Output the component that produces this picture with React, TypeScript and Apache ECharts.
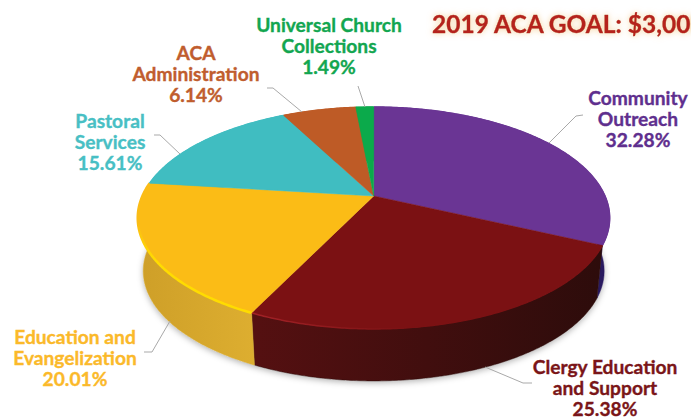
import React, { useEffect, useRef } from "react";
import * as echarts from "echarts";

const categories = [
  "Community Outreach",
  "Clergy Education and Support",
  "Education and Evangelization",
  "Pastoral Services",
  "ACA Administration",
  "Universal Church Collections",
];
const values = [32.28, 25.38, 20.01, 15.61, 6.14, 1.49];
const labelLines = [
  ["Community", "Outreach"],
  ["Clergy Education", "and Support"],
  ["Education and", "Evangelization"],
  ["Pastoral", "Services"],
  ["ACA", "Administration"],
  ["Universal Church", "Collections"],
];
const faceColors = ["#6A3594", "#7B1113", "#FBBC16", "#40BDC1", "#BE5B26", "#0BAA4B"];
const textColors = ["#5F2F8E", "#7A1518", "#FBB92A", "#48BFC4", "#C05D2E", "#12A650"];
const rimStops = [
  ["#6A3594", "#6A3594"],
  ["#7B1113", "#A32227"],
  ["#FBBC16", "#FFDC00"],
  ["#40BDC1", "#40BDC1"],
  ["#BE5B26", "#BE5B26"],
  ["#0BAA4B", "#0BAA4B"],
];
const wallStops = [
  ["#2A1A60", "#2A1A60"],
  ["#551011", "#2D0C0B"],
  ["#CE9F28", "#DDAE30"],
  ["#40BDC1", "#40BDC1"],
  ["#BE5B26", "#BE5B26"],
  ["#0BAA4B", "#0BAA4B"],
];
const title = "2019 ACA GOAL: $3,000,000";

const labelAnchors = [
  [638, 97],
  [605, 366],
  [75, 336],
  [110, 120],
  [196, 52],
  [329, 24],
];
const leaders = [
  [[583, 115], [576, 116], [549, 143]],
  [[532, 383], [523, 383], [485, 367]],
  [[144, 352], [152, 352], [170, 321]],
  [[154, 135], [160, 135], [180, 154]],
  [[267, 88], [273, 88], [302, 112]],
  [[358, 86], [365, 107]],
];

const CX = 373.7;
const APEX_Y = 196;
const PERSP = 0.198;
const K_X = 231.3;
const K_Y = -67.8;
const ELL_CY = 218;
const ELL_RX = 236;
const ELL_RY = 111;
const BOT_CY = 271;
const BOT_RX = 230.5;
const BOT_RY = 110;

const total = values.reduce((a, b) => a + b, 0);
const spans: number[][] = [];
{
  let acc = 0;
  values.forEach((v) => {
    spans.push([(acc / total) * Math.PI * 2, ((acc + v) / total) * Math.PI * 2]);
    acc += v;
  });
}

const project = (a: number) => {
  const u = Math.sin(a);
  const v = Math.cos(a);
  const w = 1 + PERSP * v;
  return [CX + (K_X * u) / w, (APEX_Y + K_Y * v) / w];
};
const lower = (p: number[]) => [
  CX + ((p[0] - CX) * BOT_RX) / ELL_RX,
  BOT_CY + ((p[1] - ELL_CY) * BOT_RY) / ELL_RY,
];
const rim = (from: number, to: number) => {
  const n = Math.max(4, Math.ceil((to - from) / 0.01));
  const pts: number[][] = [];
  for (let i = 0; i <= n; i++) pts.push(project(from + ((to - from) * i) / n));
  return pts;
};

const renderWall = (_: any, api: any) => {
  const i = api.value(0);
  const [a, b] = spans[i];
  const top = rim(a, b);
  const bottom = top.map(lower).reverse();
  return {
    type: "polygon",
    shape: { points: top.concat(bottom) },
    style: {
      fill: {
        type: "linear", x: 0, y: 0, x2: 1, y2: 0,
        colorStops: [
          { offset: 0, color: wallStops[i][0] },
          { offset: 1, color: wallStops[i][1] },
        ],
      },
      stroke: wallStops[i][1],
      lineWidth: 0.5,
    },
  };
};

const renderTop = (_: any, api: any) => {
  const i = api.value(0);
  const [a, b] = spans[i];
  const arc = rim(a, b);
  const rimGrad =
    i === 1
      ? {
          type: "linear", x: 0, y: 0, x2: 1, y2: 0,
          colorStops: [
            { offset: 0, color: rimStops[i][1] },
            { offset: 0.45, color: rimStops[i][0] },
            { offset: 1, color: rimStops[i][0] },
          ],
        }
      : {
          type: "linear", x: 0, y: 0, x2: 0, y2: 1,
          colorStops: [
            { offset: 0, color: rimStops[i][0] },
            { offset: 0.3, color: rimStops[i][0] },
            { offset: 0.6, color: rimStops[i][1] },
            { offset: 1, color: rimStops[i][1] },
          ],
        };
  return {
    type: "group",
    children: [
      {
        type: "polygon",
        shape: { points: [[CX, APEX_Y], ...arc] },
        style: { fill: faceColors[i], stroke: faceColors[i], lineWidth: 0.5 },
      },
      {
        type: "polyline",
        shape: { points: arc },
        style: {
          fill: "none",
          stroke: rimGrad,
          lineWidth: i === 2 ? 2.5 : 1.5,
        },
      },
    ],
  };
};

const renderShadow = (_: any, api: any) => {
  const pts = rim(Math.PI / 2 - 0.1, Math.PI * 1.5 + 0.1).map(lower);
  return {
    type: "polygon",
    shape: { points: pts },
    style: {
      fill: "#dddddd",
      shadowBlur: 6,
      shadowColor: "rgba(0,0,0,0.3)",
      shadowOffsetY: 2,
    },
  };
};

export default function App() {
  const ref = useRef<HTMLDivElement>(null);
  useEffect(() => {
    const chart = echarts.init(ref.current!, undefined, { renderer: "svg" });
    const FONT = "Lato";
    const labels: any[] = [];
    categories.forEach((_, i) => {
      const rows = [...labelLines[i], `${values[i].toFixed(2)}%`];
      rows.forEach((t, r) => {
        labels.push({
          type: "text",
          x: labelAnchors[i][0],
          y: labelAnchors[i][1] + r * 21,
          z: 20,
          style: {
            text: t,
            fill: textColors[i],
            stroke: textColors[i],
            lineWidth: 0.35,
            font: `bold 19.2px ${FONT}`,
            align: "center",
            verticalAlign: "middle",
          },
        });
      });
      labels.push({
        type: "polyline",
        z: 5,
        shape: { points: leaders[i] },
        style: { fill: "none", stroke: "#A9A9A9", lineWidth: 1 },
      });
    });
    chart.setOption({
      animation: false,
      backgroundColor: "#ffffff",
      series: [
        {
          type: "custom",
          coordinateSystem: "none",
          silent: true,
          z: 1,
          data: [[0]],
          renderItem: renderShadow,
        },
        {
          type: "custom",
          coordinateSystem: "none",
          silent: true,
          z: 2,
          data: values.map((v, i) => [i, v]),
          renderItem: renderWall,
        },
        {
          type: "custom",
          coordinateSystem: "none",
          silent: true,
          z: 3,
          data: values.map((v, i) => [i, v]),
          renderItem: renderTop,
        },
      ],
      graphic: [
        ...labels,
        {
          type: "text",
          x: 432,
          y: 23,
          z: 21,
          style: {
            text: title,
            fill: "#B5201F",
            stroke: "#B5201F",
            lineWidth: 0.4,
            font: `bold 24.5px ${FONT}`,
            align: "left",
            verticalAlign: "middle",
            textShadowColor: "rgba(240,190,110,0.7)",
            textShadowBlur: 6,
          },
        },
      ],
    });
    return () => chart.dispose();
  }, []);
  return (
    <div
      ref={ref}
      style={{ position: "absolute", left: 0, top: 0, width: 691, height: 419 }}
    />
  );
}
